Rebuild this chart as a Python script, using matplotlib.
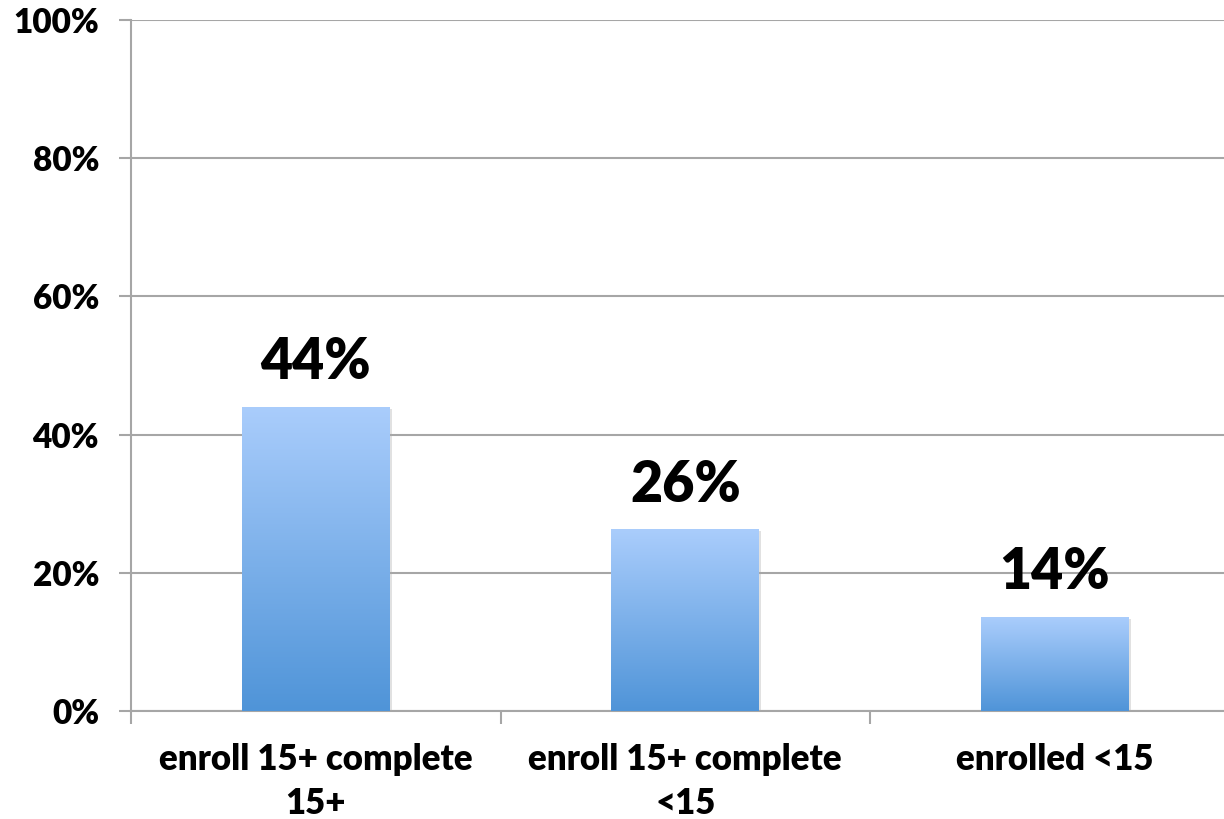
import numpy as np
import matplotlib.pyplot as plt
import matplotlib.patheffects as pe
from matplotlib.colors import LinearSegmentedColormap

categories = ['enroll 15+ complete\n15+', 'enroll 15+ complete\n<15', 'enrolled <15']
values = [44.0, 26.3, 13.6]
labels = ['44%', '26%', '14%']
yticks = [0, 20, 40, 60, 80, 100]

plt.rcParams['font.family'] = ['Lato', 'DejaVu Sans']
plt.rcParams['font.weight'] = 'heavy'

fig = plt.figure(figsize=(12.24, 8.19), dpi=100)
ax = fig.add_axes([131 / 1224, 1 - 711 / 819, 1108.5 / 1224, 691 / 819])

x = np.arange(len(categories))
grid_col = '#a6a6a6'

# gradient for the bars, light on top, darker at the bottom
cmap = LinearSegmentedColormap.from_list('bar', ['#4f94d8', '#aacdfc'])
grad = np.linspace(0, 1, 256).reshape(-1, 1)

bars = ax.bar(x, values, width=0.4, facecolor='white', edgecolor='none', zorder=3,
              path_effects=[pe.SimplePatchShadow(offset=(1.5, -1.5), shadow_rgbFace='#aaaaaa', alpha=0.35),
                            pe.Normal()])
for b in bars:
    x0, y0 = b.get_x(), b.get_y()
    w, h = b.get_width(), b.get_height()
    im = ax.imshow(grad, cmap=cmap, origin='lower', aspect='auto',
                   extent=[x0, x0 + w, y0, y0 + h], zorder=4)
    im.set_clip_path(b)

for xi, v, lab in zip(x, values, labels):
    ax.text(xi, v + 2.7, lab, ha='center', va='bottom', fontsize=40, fontweight='heavy', zorder=5)

ax.set_xlim(-0.5, 2.5)
ax.set_ylim(0, 100)
ax.set_yticks(yticks)
ax.set_yticklabels([f'{t}%' for t in yticks], fontweight='heavy')
ax.yaxis.grid(True, color=grid_col, linewidth=1.5)
ax.set_axisbelow(True)

ax.set_xticks(x)
ax.set_xticklabels(categories, linespacing=1.4, fontweight='heavy')
ax.set_xticks([-0.5, 0.5, 1.5, 2.5], minor=True)
ax.tick_params(axis='x', which='major', length=0, pad=23, labelsize=25)
ax.tick_params(axis='x', which='minor', length=9, width=1.5, color=grid_col, direction='out')
ax.tick_params(axis='y', length=9, width=1.5, color=grid_col, pad=14, labelsize=24)

for s in ['top', 'right']:
    ax.spines[s].set_visible(False)
for s in ['left', 'bottom']:
    ax.spines[s].set_color(grid_col)
    ax.spines[s].set_linewidth(1.5)

fig.savefig('out.png', dpi=100)
